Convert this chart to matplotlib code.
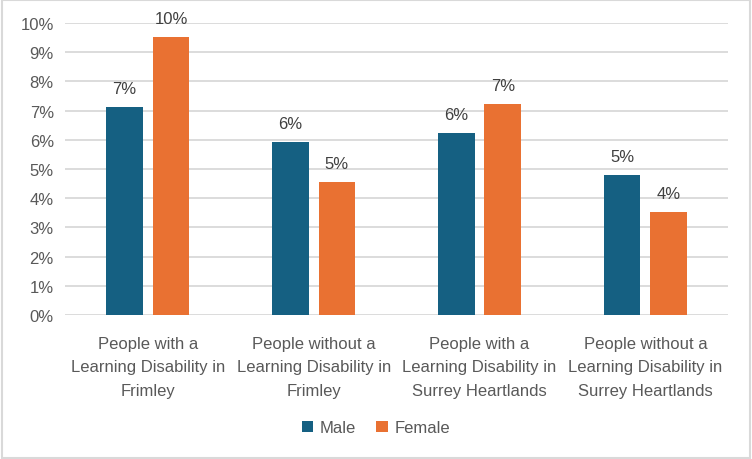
import numpy as np
import matplotlib
matplotlib.use("Agg")
import matplotlib.pyplot as plt
from matplotlib.patches import Rectangle

categories = [
    "People with a\nLearning Disability in\nFrimley",
    "People without a\nLearning Disability in\nFrimley",
    "People with a\nLearning Disability in\nSurrey Heartlands",
    "People without a\nLearning Disability in\nSurrey Heartlands",
]
male = [7.12, 5.92, 6.23, 4.79]
female = [9.52, 4.55, 7.23, 3.52]
yticks = list(range(0, 11))

plt.rcParams['font.family'] = ['Liberation Sans Narrow', 'Liberation Sans', 'DejaVu Sans']

MALE_C = "#156082"
FEMALE_C = "#E97132"
TXT = "#595959"

fig = plt.figure(figsize=(7.52, 4.6), dpi=100)
ax = fig.add_axes([0.0864, 0.313, 0.882, 0.635])

x = np.arange(len(categories))
w = 0.22
b1 = ax.bar(x - 0.14, male, w, color=MALE_C, label="Male", zorder=3)
b2 = ax.bar(x + 0.14, female, w, color=FEMALE_C, label="Female", zorder=3)

for bars in (b1, b2):
    for r in bars:
        h = r.get_height()
        ax.text(r.get_x() + r.get_width() / 2, h + 0.38, f"{round(h):.0f}%",
                ha="center", va="bottom", fontsize=12, color="#404040")

ax.set_xlim(-0.5, len(categories) - 0.5)
ax.set_ylim(0, 10)
ax.set_yticks(yticks)
ax.set_yticklabels([f"{t}%" for t in yticks], fontsize=12, color=TXT)
ax.set_xticks(x)
ax.set_xticklabels(categories, fontsize=12, color=TXT, linespacing=1.7)
ax.tick_params(length=0, pad=8)
ax.tick_params(axis="x", pad=15)
ax.grid(axis="y", color="#d9d9d9", linewidth=1.3, zorder=0)
for s in ax.spines.values():
    s.set_visible(False)

fig.legend(handles=[b1, b2], labels=["Male", "Female"], loc="center",
           bbox_to_anchor=(0.5, 0.068), ncol=2, frameon=False, fontsize=12,
           handlelength=0.7, handleheight=0.7, handletextpad=0.4,
           columnspacing=1.2, labelcolor=TXT)

fig.patches.append(Rectangle((0.002, 0.003), 0.995, 0.994, transform=fig.transFigure,
                             fill=False, edgecolor="#d9d9d9", linewidth=1.5))

fig.savefig("out.png", dpi=100)
